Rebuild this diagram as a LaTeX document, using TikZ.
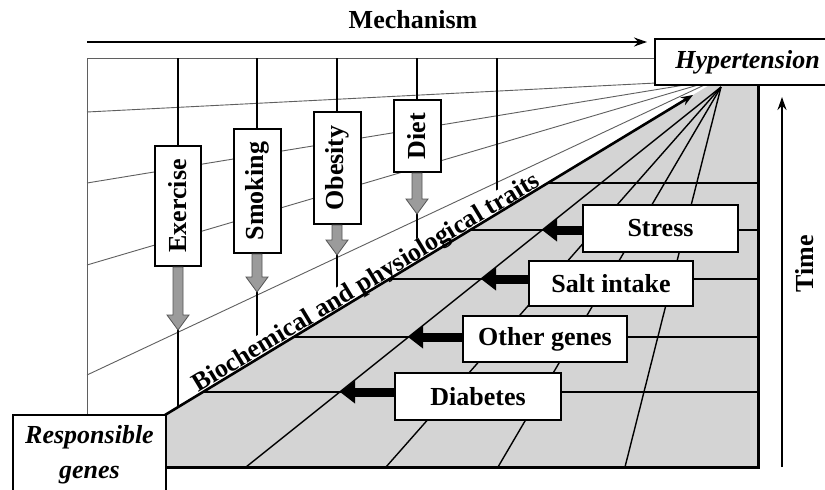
\documentclass[tikz,border=0pt]{standalone}
\usepackage{fontspec}
\setmainfont{Liberation Serif}
\usepackage{graphicx}
\usetikzlibrary{arrows.meta,calc}
\definecolor{floorgray}{RGB}{212,212,212}
\definecolor{arrgray}{RGB}{155,155,155}
\definecolor{arredge}{RGB}{85,85,85}
\definecolor{wallline}{RGB}{95,95,95}
\newcommand\grayarrow[2]{%
  \path[garrow] let \p1=(#1), \p2=(#2) in
    (\x1-5pt,\y1) -- (\x1-5pt,\y2+15pt) -- (\x1-11pt,\y2+15pt) -- (\x1,\y2)
    -- (\x1+11pt,\y2+15pt) -- (\x1+5pt,\y2+15pt) -- (\x1+5pt,\y1) -- cycle;}
\begin{document}
\begin{tikzpicture}[x=1pt,y=-1pt,
  lbl/.style={font=\fontsize{26}{30}\selectfont\bfseries},
  fbox/.style={lbl,draw=black,line width=2pt,fill=white,inner sep=0pt},
  wall/.style={draw=wallline,line width=0.9pt},
  pole/.style={draw=black,line width=1.2pt},
  ray/.style={draw=black,line width=1.4pt},
  rung/.style={draw=black,line width=2pt},
  rim/.style={draw=black,line width=3pt},
  garrow/.style={fill=arrgray,draw=arredge,line width=0.8pt},
  barrow/.style={draw=black,line width=9pt,-{Triangle[length=15pt,width=22pt]}},
  axisarrow/.style={draw=black,line width=2pt,-{Stealth[length=13pt,width=9pt]}},
]
\useasboundingbox (0,0) rectangle (825,490);
\clip (0,0) rectangle (825,490);
\fill[white] (0,0) rectangle (825,490);

% key points
\coordinate (D0) at (165,415);
\coordinate (DT) at (693,95);
\coordinate (VF) at (721,87);
\coordinate (VW) at (715,80);

% floor
\fill[floorgray] (D0) -- (709.5,85) -- (758,85) -- (758,467) -- (165,467) -- cycle;
\foreach \bx in {246,386,498,625} {\draw[ray] (VF) -- (\bx,467);}
\foreach \yy/\xx in {183/547.8,230/470.3,279/389.4,337/293.7,392/203} {\draw[rung] (\xx,\yy) -- (758,\yy);}
\draw[rim] (758,85) -- (758,467) -- (165,467);

% wall
\draw[wall] (87,415) -- (87,58) -- (655,58);
\foreach \yy in {112,183,265,375} {\draw[wall] (87,\yy) -- (VW);}
\foreach \xx/\yy in {178/407.1,257/359.2,337/310.8,417/262.3,497/213.8} {\draw[pole] (\xx,58) -- (\xx,\yy);}

% diagonal
\node[lbl, rotate=31.21, anchor=base west, fill=white, inner sep=0.5pt, text depth=0pt] (traits) at (198,393) {Biochemical and physiological traits};
\draw[line width=2.6pt, -{Stealth[length=12pt,width=9pt]}] (D0) -- (DT);

% wall factors
\coordinate (exT) at (178,330);
\coordinate (smT) at (257,292);
\coordinate (obT) at (337,255);
\coordinate (diT) at (417,214);
\node[fbox, minimum width=46pt, minimum height=120pt] (ex) at (178,206) {\rotatebox{90}{Exercise}};
\node[fbox, minimum width=47pt, minimum height=124pt] (sm) at (257,191) {\rotatebox{90}{Smoking}};
\node[fbox, minimum width=47pt, minimum height=112pt] (ob) at (337,168) {\rotatebox{90}{Obesity}};
\node[fbox, minimum width=47pt, minimum height=72pt] (di) at (417,136) {\rotatebox{90}{Diet}};
\grayarrow{ex.south}{exT}
\grayarrow{sm.south}{smT}
\grayarrow{ob.south}{obT}
\grayarrow{di.south}{diT}

% floor factors
\coordinate (stT) at (542,230);
\coordinate (saT) at (481,279);
\coordinate (ogT) at (408,337);
\coordinate (dbT) at (340,392);
\node[fbox, minimum width=155pt, minimum height=47pt] (st) at (660.5,228.5) {Stress};
\node[fbox, minimum width=164pt, minimum height=45pt] (sa) at (611,283.5) {Salt intake};
\node[fbox, minimum width=164pt, minimum height=46pt] (og) at (545,339) {Other genes};
\node[fbox, minimum width=166pt, minimum height=47pt] (db) at (478,396.5) {Diabetes};
\draw[barrow] (st.west |- stT) -- (stT);
\draw[barrow] (sa.west |- saT) -- (saT);
\draw[barrow] (og.west |- ogT) -- (ogT);
\draw[barrow] (db.west |- dbT) -- (dbT);

% end boxes
\node[fbox, font=\fontsize{26}{30}\selectfont\bfseries\itshape, minimum width=185pt, minimum height=46pt] (hyp) at (747.5,62) {Hypertension};
\node[fbox, font=\fontsize{26}{35}\selectfont\bfseries\itshape, align=center, minimum width=153pt, minimum height=79pt] (rg) at (89.5,454.5) {Responsible\\genes};

% axes
\node[lbl, anchor=base] (mech) at (413,28) {Mechanism};
\coordinate (m0) at (87,42);
\coordinate (m1) at (647,42);
\draw[axisarrow] (m0) -- (m1);
\coordinate (t0) at (782,467);
\coordinate (t1) at (782,97);
\draw[axisarrow] (t0) -- (t1);
\node[lbl, rotate=90, anchor=base] (time) at (813,264) {Time};
\end{tikzpicture}
\end{document}
